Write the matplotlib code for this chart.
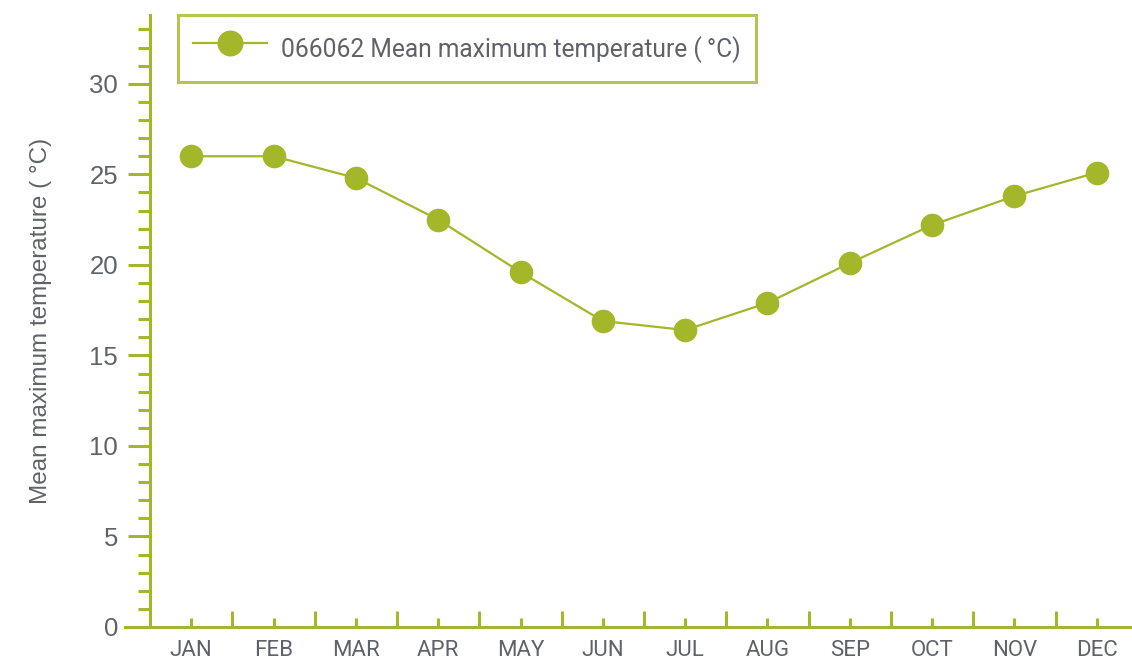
import matplotlib
matplotlib.use("Agg")
import matplotlib.pyplot as plt
from matplotlib.ticker import MultipleLocator, FixedLocator, NullFormatter

plt.rcParams['font.family'] = ['Roboto', 'DejaVu Sans']

months = ["JAN", "FEB", "MAR", "APR", "MAY", "JUN", "JUL", "AUG", "SEP", "OCT", "NOV", "DEC"]
mean_max_temp = [26.0, 26.0, 24.8, 22.5, 19.6, 16.9, 16.4, 17.9, 20.1, 22.2, 23.8, 25.1]
series_label = "066062 Mean maximum temperature (\u2009°C)"
y_label = "Mean maximum temperature ( °C)"

GREEN = "#a4b62a"
GRAY = "#5f6368"
ARIAL = ['Liberation Sans', 'DejaVu Sans']

W, H = 1132, 663
fig = plt.figure(figsize=(W / 100, H / 100), dpi=100)
ax = fig.add_axes([150 / W, (H - 627) / H, (1138 - 150) / W, (627 - 15) / H])

x = list(range(len(months)))
ax.plot(x, mean_max_temp, color=GREEN, lw=1.6, marker="o", ms=17,
        markeredgewidth=0, label=series_label, zorder=3, clip_on=False)

ax.set_xlim(-0.5, len(months) - 0.5)
ax.set_ylim(0, 33.8)

for s in ("top", "right"):
    ax.spines[s].set_visible(False)
for s in ("left", "bottom"):
    ax.spines[s].set_color(GREEN)
    ax.spines[s].set_linewidth(2.2)
ax.spines["bottom"].set_bounds(-0.8, len(months) - 0.5)

# y axis: outward major ticks every 5, minor every 1
ax.yaxis.set_major_locator(MultipleLocator(5))
ax.yaxis.set_minor_locator(MultipleLocator(1))
ax.tick_params(axis="y", which="major", direction="out", length=16, width=2.2,
               color=GREEN, labelcolor=GRAY, labelsize=18.5, pad=7)
ax.tick_params(axis="y", which="minor", direction="out", length=9, width=2.2,
               color=GREEN)
for t in ax.get_yticklabels():
    t.set_family(ARIAL)

# x axis: short ticks at month centres, longer ticks at boundaries
ax.xaxis.set_major_locator(FixedLocator(x))
ax.set_xticklabels(months)
ax.xaxis.set_minor_locator(FixedLocator([i + 0.5 for i in x[:-1]]))
ax.xaxis.set_minor_formatter(NullFormatter())
ax.tick_params(axis="x", which="major", direction="in", length=6.5, width=2.2,
               color=GREEN, labelcolor=GRAY, labelsize=16, pad=9)
ax.tick_params(axis="x", which="minor", direction="in", length=11.5, width=2.2,
               color=GREEN)

ax.set_ylabel(y_label, color=GRAY, fontsize=17.5, family=ARIAL)
ax.yaxis.set_label_coords((52 - 150) / (1138 - 150), 0.5)

leg = ax.legend(loc="upper left", bbox_to_anchor=((178 - 150) / (1138 - 150), 1.0),
                frameon=True, fancybox=False, fontsize=17.7, labelcolor=GRAY,
                handlelength=3.0, handleheight=2.0, handletextpad=0.6,
                borderpad=0.6, markerscale=1.1, borderaxespad=0)
leg.get_frame().set_edgecolor(GREEN)
leg.get_frame().set_linewidth(2.2)

fig.savefig("out.png", dpi=100)
